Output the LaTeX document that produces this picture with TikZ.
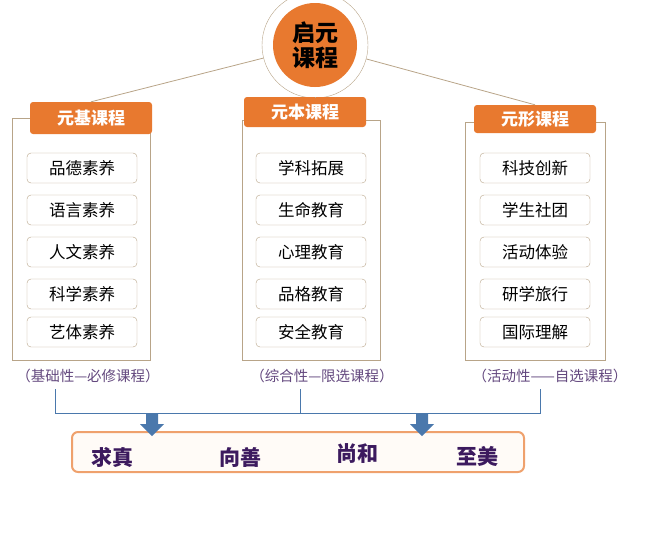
\documentclass[tikz,border=0pt]{standalone}
\usepackage{fontspec}
\setmainfont{Noto Sans CJK SC}
\usetikzlibrary{positioning}
\definecolor{corange}{HTML}{E8792F}
\definecolor{cline}{HTML}{B8A488}
\definecolor{cblue}{HTML}{4A78AC}
\definecolor{cpurple}{HTML}{3C1A5E}

\begin{document}
\begin{tikzpicture}
[x=1pt, y=-1pt,
headnode/.style={rectangle, rounded corners=3pt, fill=corange, text=white, font=\bfseries\fontsize{17}{17}\selectfont, minimum width=122pt, minimum height=32pt},
itemnode/.style={rectangle, rounded corners=4pt, draw=cline, fill=white, font=\fontsize{16.5}{16.5}\selectfont, minimum width=110pt, minimum height=30pt},
framebox/.style={draw=cline},
tagnode/.style={text=cpurple!80, font=\fontsize{14.5}{14.5}\selectfont},
goalnode/.style={text=cpurple, font=\bfseries\fontsize{21}{21}\selectfont},
link/.style={draw=cline, thick},
]
\useasboundingbox (0,0) rectangle (660,546);
% centre circle
\node[circle, draw=cline, fill=white, minimum size=106pt] (root) at (315,45) {};
\node[circle, fill=corange, minimum size=84pt, align=center, font=\bfseries\fontsize{23}{25}\selectfont, inner sep=0pt] (rootin) at (315,45) {启元\\课程};

% column frames
\draw[framebox] (12,118) rectangle (150,360);
\draw[framebox] (242,120) rectangle (380,360);
\draw[framebox] (465,122) rectangle (605,360);

\node[headnode] (h1) at (91,118) {元基课程};
\node[headnode, minimum height=30pt] (h2) at (305,112) {元本课程};
\node[headnode, minimum height=28pt] (h3) at (535,119) {元形课程};

\draw[link] (root) -- (h1.north);
\draw[link] (root) -- (h2.north -| root);
\draw[link] (root) -- (h3.north);

% items
\node[itemnode] (a1) at (82,168) {品德素养};
\node[itemnode] (a2) at (82,210) {语言素养};
\node[itemnode] (a3) at (82,252) {人文素养};
\node[itemnode] (a4) at (82,294) {科学素养};
\node[itemnode] (a5) at (82,332) {艺体素养};
\node[itemnode] (b1) at (311,168) {学科拓展};
\node[itemnode] (b2) at (311,210) {生命教育};
\node[itemnode] (b3) at (311,252) {心理教育};
\node[itemnode] (b4) at (311,294) {品格教育};
\node[itemnode] (b5) at (311,332) {安全教育};
\node[itemnode] (c1) at (535,168) {科技创新};
\node[itemnode] (c2) at (535,210) {学生社团};
\node[itemnode] (c3) at (535,252) {活动体验};
\node[itemnode] (c4) at (535,294) {研学旅行};
\node[itemnode] (c5) at (535,332) {国际理解};

% tags
\node[tagnode] (t1) at (88,376) {（基础性—必修课程）};
\node[tagnode] (t2) at (322,376) {（综合性—限选课程）};
\node[tagnode] (t3) at (550,376) {（活动性——自选课程）};

% bracket
\coordinate (k1) at (55,413);
\coordinate (k2) at (300,413);
\coordinate (k3) at (540,413);
\draw[cblue, thick] (55,389) -- (k1) -- (k3) -- (540,389);
\draw[cblue, thick] (300,389) -- (k2);

% goals
\node[draw=corange!70, line width=2pt, fill=orange!3, rounded corners=6pt, minimum width=452pt, minimum height=40pt] (goal) at (298,452) {};
\fill[cblue] (146,413) rectangle (158,424) -- (164,424) -- (152,436) -- (140,424) -- (146,424);
\fill[cblue] (416,413) rectangle (428,424) -- (434,424) -- (422,436) -- (410,424) -- (416,424);
\node[goalnode] (g1) at (112,457) {求真};
\node[goalnode] (g2) at (240,457) {向善};
\node[goalnode] (g3) at (357,454) {尚和};
\node[goalnode] (g4) at (477,456) {至美};
\end{tikzpicture}
\end{document}
